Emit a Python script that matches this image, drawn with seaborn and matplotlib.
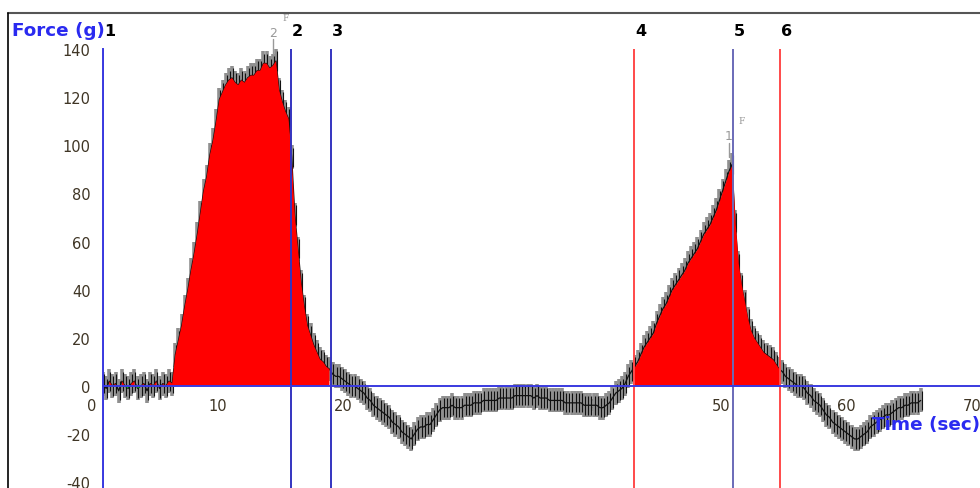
import numpy as np
import pandas as pd
import matplotlib
matplotlib.use("Agg")
import matplotlib.pyplot as plt
import matplotlib.transforms as mtransforms
from matplotlib.lines import Line2D
import seaborn as sns

# force readings, one every 0.25 s starting at t = 0
sample_dt = 0.25
baseline_g = [1, -1, 2, 0, 1, -2, 2, 0, -1, 1, 2, -1, 0, 1, -2, 1, 0, 2, -1, 1, 0, 2, 1]
peak1_g = [13, 19, 25, 33, 40, 48, 55, 63, 72, 81, 87, 96, 102, 110, 119, 122, 125, 127,
           128, 126, 125, 127, 126, 128, 129, 129, 131, 131, 134, 134, 132, 133, 135, 123,
           118, 114, 111, 95, 71, 57, 43, 33, 25, 21, 17, 14, 11, 10, 8, 7, 5, 4, 4]
valley_g = [3, 2, 1, 0, 0, -1, -2, -3, -5, -6, -8, -9, -10, -11, -12, -13, -15, -16, -17,
            -19, -20, -21, -22, -20, -18, -17, -17, -16, -16, -14, -12, -10, -9, -9, -9, -8,
            -9, -9, -9, -8, -8, -8, -7, -7, -7, -6, -6, -6, -6, -6, -5, -5, -5, -5, -5, -4,
            -4, -4, -4, -4, -4, -5, -4, -5, -5, -5, -6, -6, -6, -6, -6, -7, -7, -7, -7, -7,
            -7, -8, -8, -8, -8, -8, -9, -9, -8, -7, -5, -3, -2, -1, 1, 4, 6]
peak2_g = [8, 10, 13, 16, 18, 20, 22, 26, 29, 32, 34, 37, 40, 42, 44, 46, 48, 51, 53, 55,
           57, 60, 63, 65, 67, 70, 73, 77, 81, 85, 89, 92, 68, 51, 42, 35, 28, 23, 20, 18,
           16, 14, 13, 12, 11, 9, 7]
tail_g = [6, 4, 3, 2, 1, 0, 0, -1, -3, -4, -6, -7, -8, -10, -12, -13, -15, -16, -17, -18,
          -19, -20, -21, -22, -22, -21, -20, -19, -17, -16, -15, -14, -13, -12, -12, -11,
          -10, -9, -9, -8, -8, -7, -7, -7, -6]
noise_g = 5  # half height of the jitter band

# cursor lines
cursor_t = [0, 14.95, 18.12, 42.2, 50.08, 53.8]
cursor_labels = ["1", "2", "3", "4", "5", "6"]
cursor_colors = ["#3a3ae0", "#3434c0", "#3434c0", "#ff4a4a", "#6a6ab8", "#ff4a4a"]

# peak markers (time, force, label)
peak_marks = [(13.75, 135, "2"), (50.0, 92, "1")]

x_ticks = [0, 10, 20, 30, 40, 50, 60, 70]
y_ticks = [-40, -20, 0, 20, 40, 60, 80, 100, 120, 140]

force = np.array(baseline_g + peak1_g + valley_g + peak2_g + tail_g, dtype=float)
t = np.arange(len(force)) * sample_dt
df = pd.DataFrame({"t": t, "force": force})

sns.set_style("white")
plt.rcParams["axes.unicode_minus"] = False
blue = "#3a3ae0"
tick_col = "#3f3525"

fig = plt.figure(figsize=(9.8, 4.89), dpi=100)
W, H = 980, 489
x0_px, y0_px, px_s, px_g = 103, 387, 12.58, 2.407
xmax = 70
ymin = (y0_px - H) / px_g
ax = fig.add_axes([x0_px / W, 0, xmax * px_s / W, (H - 50) / H])
ax.set_xlim(0, xmax)
ax.set_ylim(ymin, 140)

# jitter bars + centre line (drawn over the axis labels, as in the original)
ax.vlines(df["t"], df["force"] - noise_g, df["force"] + noise_g, color="#8f8f8f", lw=2.6, zorder=5)
ax.vlines(df["t"] + 0.07, df["force"] - noise_g * 0.8, df["force"] + noise_g * 0.8,
          color="#111111", lw=0.8, zorder=5)
sns.lineplot(data=df, x="t", y="force", color="#111111", lw=0.9, ax=ax, zorder=5)

# filled areas
in1 = (t >= cursor_t[0]) & (t <= cursor_t[2])
in2 = (t >= cursor_t[3]) & (t <= cursor_t[5])
ax.fill_between(t, 0, force, where=in1 & (force >= 0), color="#ff0000", lw=0, zorder=6)
ax.fill_between(t, 0, force, where=in1 & (force <= 0), color="#00ee00", lw=0, zorder=6)
ax.fill_between(t, 0, force, where=in2, color="#ff0000", lw=0, zorder=6)

# cursors
for ct, lab, col in zip(cursor_t, cursor_labels, cursor_colors):
    ax.plot([ct, ct], [ymin, 140], color=col, lw=1.4, zorder=7)
    ax.annotate(lab, xy=(ct, 140), xytext=(1, 19), textcoords="offset pixels",
                ha="left", va="center", fontsize=11.5, fontweight="bold",
                color="black", annotation_clip=False)

# peak markers
for pt, pf, lab in peak_marks:
    ax.plot([pt - 0.25, pt - 0.25], [pf + 3, pf + 9], color="#999999", lw=1, clip_on=False, zorder=8)
    ax.annotate(lab, xy=(pt, pf), xytext=(-3, 29), textcoords="offset pixels",
                ha="center", va="center", fontsize=9, color="#999999", annotation_clip=False)
    ax.annotate("F", xy=(pt, pf), xytext=(10, 44), textcoords="offset pixels",
                ha="center", va="center", fontsize=6.5, family="DejaVu Serif",
                color="#999999", annotation_clip=False)

# axes
for s in ["top", "right"]:
    ax.spines[s].set_visible(False)
ax.spines["bottom"].set_position(("data", 0))
ax.spines["left"].set_position(("data", 0))
for s in ["bottom", "left"]:
    ax.spines[s].set_color(blue)
    ax.spines[s].set_linewidth(1.4)
    ax.spines[s].set_zorder(7)
ax.set_xticks(x_ticks)
ax.set_yticks(y_ticks)
ax.tick_params(axis="x", direction="out", length=7.5, width=1.4, color=blue, pad=1.5,
               labelsize=10.5, labelcolor=tick_col)
ax.tick_params(axis="y", direction="out", length=8, width=1.4, color=blue, pad=1,
               labelsize=10.5, labelcolor=tick_col)
ax.xaxis.set_zorder(4)
ax.yaxis.set_zorder(4)
shift = mtransforms.ScaledTranslation(-11 / 100, 0, fig.dpi_scale_trans)
for lbl in ax.get_xticklabels():
    lbl.set_transform(lbl.get_transform() + shift)
ax.set_xlabel("")
ax.set_ylabel("")
ax.patch.set_alpha(0)

ax.text(61.1, -15.8, "Time (sec)", ha="left", va="center", fontsize=13.2,
        fontweight="bold", color="#2a2af0", zorder=9)
fig.text(12 / W, 1 - 31 / H, "Force (g)", ha="left", va="center", fontsize=13.2,
         fontweight="bold", color="#2a2af0")

# outer frame
fig.add_artist(Line2D([8 / W, 1], [1 - 14 / H, 1 - 14 / H], color="#555555", lw=1.5))
fig.add_artist(Line2D([8 / W, 8 / W], [0, 1 - 14 / H], color="black", lw=1.2))

fig.savefig("out.png", dpi=100)
